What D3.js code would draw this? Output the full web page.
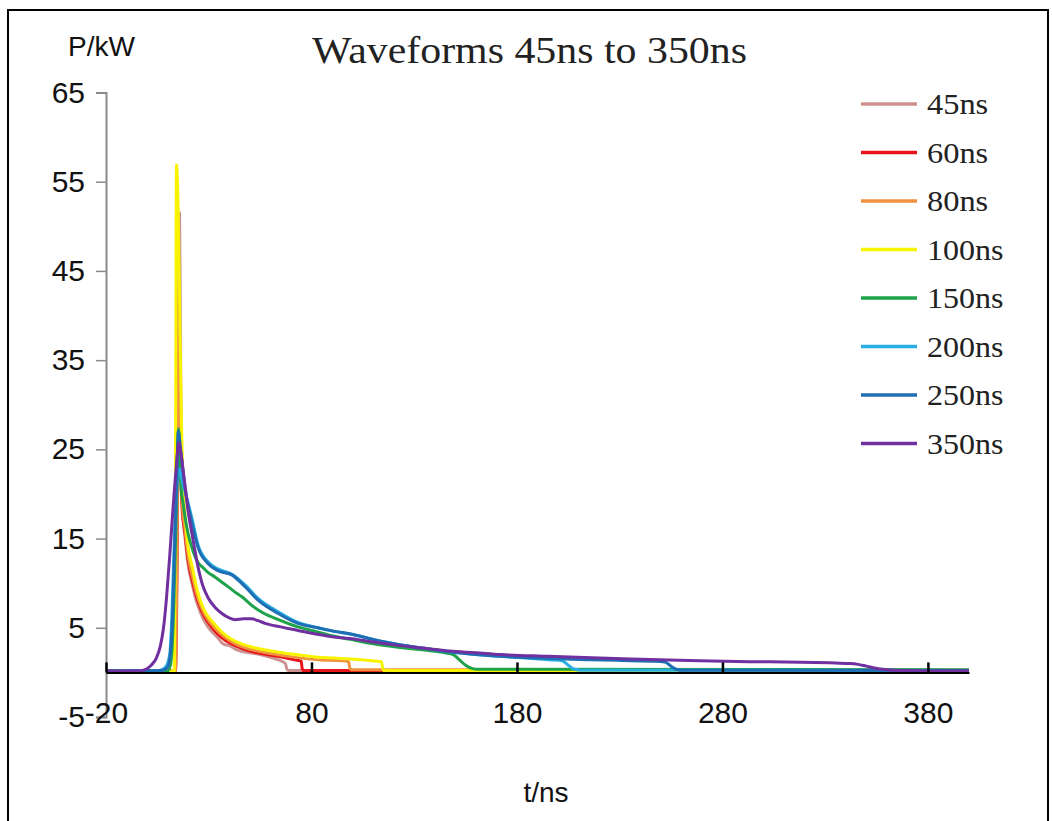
<!DOCTYPE html>
<html>
<head>
<meta charset="utf-8">
<script src="https://cdn.jsdelivr.net/npm/d3@7"></script>
<style>
  html, body { margin: 0; padding: 0; background: #fff; }
  svg { display: block; }
</style>
</head>
<body>
<svg id="chart" width="1052" height="821"></svg>
<script>
// ---------------- DATA ----------------
const seriesNames = ["45ns", "60ns", "80ns", "100ns", "150ns", "200ns", "250ns", "350ns"];
const seriesColors = ["#cc9290", "#e8131b", "#f0923e", "#f8f400", "#1fa34a", "#29aee3", "#1f6db2", "#7030a0"];

const xTicks = [-20, 80, 180, 280, 380];
const yTicks = [-5, 5, 15, 25, 35, 45, 55, 65];

// time (ns) and power (kW) per waveform
const t45 = [-20, 13.8, 14.5, 15.8, 16.3, 16.8, 17.4, 18.5, 20, 22, 24, 26, 28, 31, 34, 37, 40, 44, 50, 55, 60, 64, 67.3, 68, 68.8, 400];
const p45 = [0.15, 0.15, 8, 51.5, 35, 22, 18, 15, 12, 9.8, 8.0, 6.7, 5.7, 4.7, 4.0, 3.2, 3.0, 2.5, 2.2, 2.0, 1.7, 1.4, 1.0, 0.4, 0.2, 0.2];

const t60 = [-20, 13.8, 14.3, 15.5, 15.9, 16.4, 17, 18.5, 20, 22, 24, 26, 28, 31, 34, 38, 42, 46, 50, 58, 66, 72, 75, 75.5, 76.2, 400];
const p60 = [0.15, 0.15, 8, 36, 28, 22, 18.5, 15.5, 12.5, 10.3, 8.5, 7.2, 6.2, 5.2, 4.4, 3.6, 3.1, 2.7, 2.4, 2.0, 1.7, 1.4, 1.25, 0.4, 0.2, 0.2];

const t80 = [-20, 13.8, 14.3, 15.6, 16.0, 16.5, 17.1, 18.5, 20, 22, 24, 26, 28, 31, 34, 38, 42, 46, 50, 58, 66, 75, 85, 95, 98, 98.8, 99.5, 400];
const p80 = [0.15, 0.15, 8, 44, 30, 22.5, 19, 16, 13, 10.8, 8.9, 7.5, 6.5, 5.5, 4.7, 3.9, 3.3, 2.9, 2.6, 2.2, 1.9, 1.6, 1.4, 1.3, 1.2, 0.4, 0.3, 0.25];

const t100 = [-20, 13.3, 13.8, 14.3, 15.1, 15.9, 16.8, 17.5, 18.5, 20, 22, 24, 26, 28, 31, 34, 38, 42, 46, 50, 58, 66, 74, 83, 91, 99, 107, 114, 114.8, 115.5, 400];
const p100 = [0.15, 0.15, 20, 56.9, 52, 40, 27, 21, 17.5, 14.0, 11.8, 9.6, 8.0, 6.9, 5.9, 5.1, 4.2, 3.6, 3.2, 2.9, 2.5, 2.2, 1.95, 1.7, 1.6, 1.5, 1.35, 1.2, 0.4, 0.2, 0.2];

const t150 = [-20, 10, 11.5, 12.8, 14, 15.3, 15.9, 16.5, 17.5, 18.4, 20, 21.8, 24.8, 27, 29.6, 33, 36.4, 40, 42.8, 46, 51, 57, 63, 73.4, 82, 90, 99, 110, 123, 135, 145, 149, 152, 155, 158, 161, 400];
const p150 = [0.15, 0.15, 1, 6, 16, 27.3, 24, 20.8, 19, 17.5, 15.5, 14.0, 12.3, 11.8, 11.2, 10.7, 10.1, 9.5, 9.0, 8.5, 7.5, 6.6, 6.0, 5.1, 4.6, 4.1, 3.7, 3.2, 2.8, 2.5, 2.2, 2.0, 1.4, 0.8, 0.45, 0.35, 0.3];

const t200 = [-20, 6, 9, 11, 12, 13, 14, 15.8, 17, 18.4, 21.8, 24.8, 29.6, 34.5, 41.4, 47.7, 54, 63.8, 73.4, 83, 91, 99, 110, 123, 135, 147, 160, 172, 185, 197, 202, 205, 208, 211, 400];
const p200 = [0.15, 0.2, 0.6, 2, 6, 13, 19, 22.8, 21.5, 20.3, 17.3, 14.3, 12.4, 11.6, 11.0, 9.8, 8.3, 6.8, 5.6, 5.0, 4.6, 4.3, 3.7, 3.1, 2.7, 2.3, 2.0, 1.8, 1.6, 1.4, 1.3, 0.8, 0.35, 0.25, 0.2];

const t250 = [-20, 7, 10, 11.5, 12.5, 13.5, 14.5, 15.2, 16.5, 18.4, 21.5, 24.8, 29.6, 34.5, 41.4, 47.7, 54, 63.8, 73.4, 83.1, 91.4, 99, 110, 123, 135, 147, 160, 172, 185, 197, 210, 222, 235, 247, 252, 255, 257.5, 260, 400];
const p250 = [0.15, 0.2, 0.6, 2.5, 7, 15, 22, 27.0, 24.6, 20.8, 17.1, 14.0, 12.2, 11.4, 10.9, 9.6, 8.1, 6.6, 5.5, 5.0, 4.6, 4.3, 3.7, 3.1, 2.7, 2.3, 2.0, 1.8, 1.65, 1.55, 1.45, 1.4, 1.3, 1.25, 1.15, 0.7, 0.35, 0.25, 0.2];

const t350 = [-20, -4, -1, 2, 4.5, 6.5, 8, 9.5, 11, 12.5, 14, 15.5, 16.5, 18.4, 20, 21.8, 24.8, 27, 29.6, 33, 36.4, 40, 42.8, 47, 51, 54, 57.4, 65, 73.4, 82, 90, 98.7, 110, 123, 135, 147, 160, 172, 195, 220, 245, 269, 293, 318, 335, 342, 346, 350, 354, 358, 366, 380, 400];
const p350 = [0.15, 0.15, 0.3, 0.8, 1.6, 3.0, 5.0, 8.5, 13, 18, 22.5, 25.8, 24.5, 21, 18, 15.6, 11.8, 9.8, 8.4, 7.3, 6.6, 6.1, 5.9, 6.0, 6.0, 5.8, 5.5, 5.1, 4.7, 4.3, 4.0, 3.8, 3.4, 3.0, 2.7, 2.4, 2.2, 2.0, 1.8, 1.6, 1.45, 1.3, 1.2, 1.15, 1.05, 1.0, 0.9, 0.7, 0.5, 0.35, 0.2, 0.15, 0.15];

const seriesT = [t45, t60, t80, t100, t150, t200, t250, t350];
const seriesP = [p45, p60, p80, p100, p150, p200, p250, p350];

// ---------------- CHART ----------------
const svg = d3.select("#chart");

// outer frame
svg.append("rect")
  .attr("x", 8).attr("y", 10).attr("width", 1040).attr("height", 840)
  .attr("fill", "none").attr("stroke", "#000").attr("stroke-width", 2);

const x = d3.scaleLinear().domain([-20, 400]).range([106, 969]);
const y = d3.scaleLinear().domain([-5, 65]).range([717, 92.5]);

const plainFmt = d => String(d);

// Y axis
const yAxis = svg.append("g")
  .attr("transform", `translate(${x(-20)},0)`)
  .call(d3.axisLeft(y).tickValues(yTicks).tickSize(10).tickPadding(11).tickFormat(plainFmt));
yAxis.select(".domain").attr("stroke", "#8a8a8a").attr("stroke-width", 2);
yAxis.selectAll(".tick line").attr("stroke", "#8a8a8a").attr("stroke-width", 1.5);
yAxis.selectAll(".tick text")
  .attr("fill", "#111")
  .style("font-family", "'Liberation Sans', Arial, sans-serif")
  .style("font-size", "30px");

// lines
const line = d3.line()
  .x(d => x(d[0]))
  .y(d => y(d[1]))
  .curve(d3.curveMonotoneX);

const plot = svg.append("g");
seriesNames.forEach((name, i) => {
  const pts = seriesT[i].map((t, j) => [t, seriesP[i][j]]);
  plot.append("path")
    .datum(pts)
    .attr("fill", "none")
    .attr("stroke", seriesColors[i])
    .attr("stroke-width", 3)
    .attr("stroke-linejoin", "round")
    .attr("d", line);
});

// X axis at y = 0, ticks pointing up
const xAxis = svg.append("g")
  .attr("transform", `translate(0,${y(0)})`)
  .call(d3.axisBottom(x).tickValues(xTicks).tickSizeInner(-10).tickSizeOuter(0).tickPadding(29).tickFormat(plainFmt));
xAxis.select(".domain").attr("stroke", "#000").attr("stroke-width", 2);
xAxis.selectAll(".tick line").attr("stroke", "#000").attr("stroke-width", 2.5);
xAxis.selectAll(".tick text")
  .attr("fill", "#111")
  .style("font-family", "'Liberation Sans', Arial, sans-serif")
  .style("font-size", "30px");

// axis titles
svg.append("text")
  .attr("x", 68).attr("y", 56)
  .attr("fill", "#111")
  .style("font-family", "'Liberation Sans', Arial, sans-serif")
  .style("font-size", "28px")
  .text("P/kW");

svg.append("text")
  .attr("x", 546).attr("y", 802)
  .attr("text-anchor", "middle")
  .attr("fill", "#111")
  .style("font-family", "'Liberation Sans', Arial, sans-serif")
  .style("font-size", "28px")
  .text("t/ns");

// title
svg.append("text")
  .attr("x", 312).attr("y", 63)
  .attr("textLength", 435)
  .attr("lengthAdjust", "spacingAndGlyphs")
  .attr("fill", "#222")
  .style("font-family", "'Liberation Serif', 'Times New Roman', serif")
  .style("font-size", "38px")
  .text("Waveforms 45ns to 350ns");

// legend
const legend = svg.append("g");
seriesNames.forEach((name, i) => {
  const ly = 104 + i * 48.5;
  legend.append("line")
    .attr("x1", 861).attr("x2", 917)
    .attr("y1", ly).attr("y2", ly)
    .attr("stroke", seriesColors[i])
    .attr("stroke-width", 3.5);
  legend.append("text")
    .attr("x", 927).attr("y", ly + 10)
    .attr("textLength", name.length * 15.3)
    .attr("lengthAdjust", "spacingAndGlyphs")
    .attr("fill", "#222")
    .style("font-family", "'Liberation Serif', 'Times New Roman', serif")
    .style("font-size", "30px")
    .text(name);
});
</script>
</body>
</html>
